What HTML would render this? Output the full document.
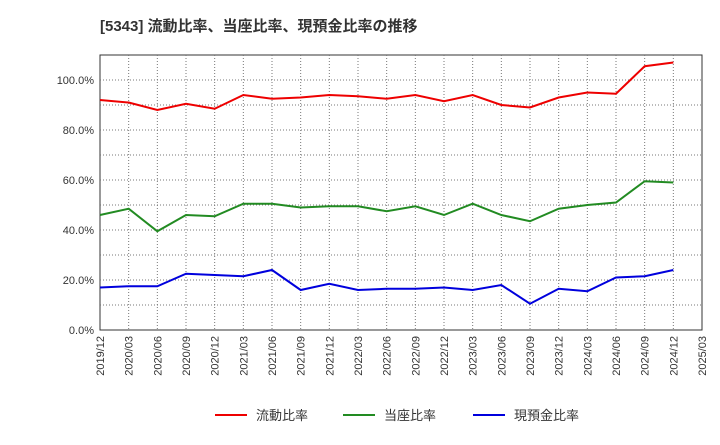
<!DOCTYPE html>
<html><head><meta charset="utf-8"><style>
body{margin:0;background:#fff;}
svg{font-family:"Liberation Sans","Noto Sans CJK JP",sans-serif;}
</style></head><body>
<svg id="c" width="720" height="440">
<text x="100" y="31" font-size="15" font-weight="bold" fill="#333">[5343]  流動比率、当座比率、現預金比率の推移</text>
<g id="grid"></g><g id="axes"></g><g id="series"></g>
<g>
<line x1="215" y1="415" x2="247" y2="415" stroke="#e00" stroke-width="2"/><text x="256" y="420" font-size="13" fill="#333">流動比率</text>
<line x1="343" y1="415" x2="375" y2="415" stroke="#228b22" stroke-width="2"/><text x="384" y="420" font-size="13" fill="#333">当座比率</text>
<line x1="473" y1="415" x2="505" y2="415" stroke="#00d" stroke-width="2"/><text x="514" y="420" font-size="13" fill="#333">現預金比率</text>
</g>
</svg>
<script>
const categories=["2019/12","2020/03","2020/06","2020/09","2020/12","2021/03","2021/06","2021/09","2021/12","2022/03","2022/06","2022/09","2022/12","2023/03","2023/06","2023/09","2023/12","2024/03","2024/06","2024/09","2024/12","2025/03"];
const currentRatio=[92,91,88,90.5,88.5,94,92.5,93,94,93.5,92.5,94,91.5,94,90,89,93,95,94.5,105.5,107];
const quickRatio=[46,48.5,39.5,46,45.5,50.5,50.5,49,49.5,49.5,47.5,49.5,46,50.5,46,43.5,48.5,50,51,59.5,59];
const cashRatio=[17,17.5,17.5,22.5,22,21.5,24,16,18.5,16,16.5,16.5,17,16,18,10.5,16.5,15.5,21,21.5,24];
const yTicks=[0,20,40,60,80,100];
const L=100,R=702,T=55,B=330,yMax=110;
const ns="http://www.w3.org/2000/svg";
const xs=i=>L+(R-L)*i/(categories.length-1);
const ys=v=>B-(B-T)*v/yMax;
function mk(t,a,p){const e=document.createElementNS(ns,t);for(const k in a)e.setAttribute(k,a[k]);p.appendChild(e);return e;}
const g=document.getElementById('grid'),ax=document.getElementById('axes'),s=document.getElementById('series');
const bg=mk('rect',{x:L,y:T,width:R-L,height:B-T,fill:'#fff',stroke:'#333','stroke-width':1},g);


categories.forEach((c,i)=>{
 const x=xs(i);
 if(i>0&&i<categories.length-1){const l=mk('line',{x1:x,y1:T,x2:x,y2:B,stroke:'#777','stroke-dasharray':'1,2'},g);
 
 }
 const t=mk('text',{x:0,y:0,'font-size':11,fill:'#333','text-anchor':'end',transform:`translate(${x+4},${B+6}) rotate(-90)`},ax);
 t.textContent=c;
 
 
});
for(let v=10;v<yMax;v+=10){const y=ys(v);const l=mk('line',{x1:L,y1:y,x2:R,y2:y,stroke:'#777','stroke-dasharray':'1,2'},g);
 
 }
yTicks.forEach(v=>{const t=mk('text',{x:L-6,y:ys(v)+4,'font-size':11,fill:'#333','text-anchor':'end'},ax);
 t.textContent=v.toFixed(1)+'%';
 
 });
[[currentRatio,'#e00','current-ratio-line'],[quickRatio,'#228b22','quick-ratio-line'],[cashRatio,'#00d','cash-ratio-line']].forEach(([d,col,n])=>{
 const p=mk('polyline',{points:d.map((v,i)=>xs(i)+','+ys(v)).join(' '),fill:'none',stroke:col,'stroke-width':2},s);
 
 
});
</script>
</body></html>
